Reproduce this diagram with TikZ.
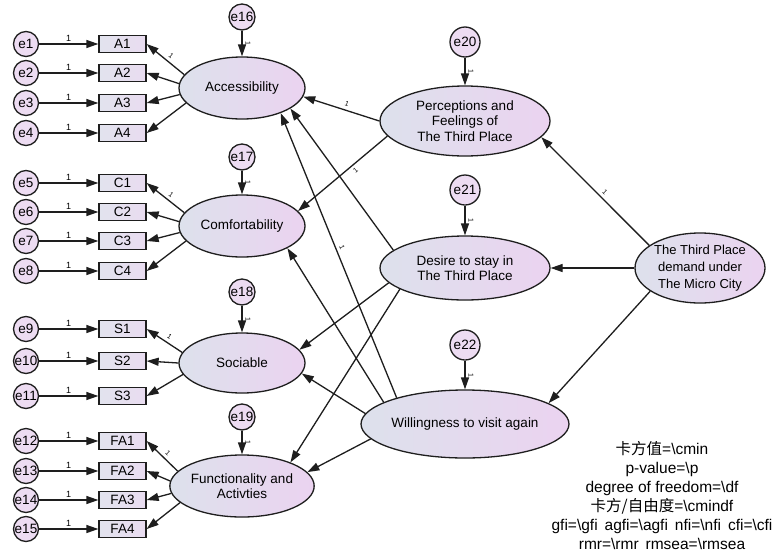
\documentclass[tikz,border=0pt]{standalone}
\usepackage{fontspec}
\setmainfont{Liberation Sans}
\newfontfamily\cjk{Noto Sans CJK SC}
\usetikzlibrary{arrows.meta,shapes.geometric}

\definecolor{linec}{HTML}{1E1E1E}
\definecolor{latL}{HTML}{DDE1EC}
\definecolor{latR}{HTML}{EBD3F0}
\definecolor{errfill}{HTML}{EDDCF2}
\definecolor{boxL}{HTML}{E2E3EE}
\definecolor{boxR}{HTML}{E9DCF0}

\tikzset{
  link/.style={draw=linec, line width=1.3pt, -{Triangle[length=12pt,width=8pt]}},
  latent/.style={ellipse, draw=linec, line width=1.3pt, left color=latL, right color=latR,
    minimum width=126pt, minimum height=62pt, inner sep=0pt, align=center,
    font=\fontsize{13.5}{15.5}\selectfont},
  bigl/.style={latent, minimum width=170pt, minimum height=66pt},
  item/.style={rectangle, draw=linec, line width=1.3pt, left color=boxL, right color=boxR,
    minimum width=47pt, minimum height=17pt, inner sep=0pt, font=\fontsize{13.5}{14}\selectfont},
  err/.style={circle, draw=linec, line width=1.3pt, fill=errfill, minimum size=25pt,
    inner sep=0pt, font=\fontsize{13.5}{14}\selectfont},
  bigerr/.style={err, minimum size=30pt},
  lab/.style={font=\fontsize{9}{10}\selectfont, inner sep=1pt},
  tiny1/.style={font=\fontsize{7}{8}\selectfont, inner sep=1pt},
}

\begin{document}
\begin{tikzpicture}[x=1pt,y=-1pt]
\fill[white] (0,0) rectangle (776,552);
\useasboundingbox (0,0) rectangle (776,552);

% latent variables
\node[latent] (acc) at (242,88) {Accessibility};
\node[latent] (com) at (242,226) {Comfortability};
\node[latent, minimum height=60pt] (soc) at (242,363) {Sociable};
\node[latent] (fun) at (242,486) {Functionality and\\Activties};
\node[bigl, minimum height=70pt] (per) at (465,121) {Perceptions and\\Feelings of\\The Third Place};
\node[bigl, minimum height=64pt] (des) at (465,268) {Desire to stay in\\The Third Place};
\node[bigl, minimum height=68pt] (wil) at (465,424) {Willingness to visit again};
\node[latent, minimum width=130pt, minimum height=70pt, font=\fontsize{13}{17}\selectfont] (thi) at (700,268) {The Third Place\\demand under\\The Micro City};

% residuals of latent variables
\node[err, minimum size=26pt] (e16) at (242,17) {e16};
\node[err, minimum size=26pt] (e17) at (242,157) {e17};
\node[err, minimum size=26pt] (e18) at (242,292) {e18};
\node[err, minimum size=26pt] (e19) at (242,417) {e19};
\node[bigerr] (e20) at (465,42) {e20};
\node[bigerr] (e21) at (465,190) {e21};
\node[bigerr] (e22) at (465,345) {e22};

\foreach \e/\l in {e16/acc,e17/com,e18/soc,e19/fun,e20/per,e21/des,e22/wil}
  \draw[link] (\e) -- node[tiny1, pos=0.5, right=2pt]{\rotatebox{-90}{1}} (\l);

% observed indicators and their errors
\foreach \n/\y/\b in {1/44/A1,2/73/A2,3/103/A3,4/133/A4,
                      5/183/C1,6/212/C2,7/241/C3,8/271/C4,
                      9/329/S1,10/361/S2,11/396/S3,
                      12/441/FA1,13/471/FA2,14/500/FA3,15/529/FA4}{
  \node[err] (e\n) at (26,\y) {e\n};
  \node[item] (\b) at (122.5,\y) {\b};
  \draw[link] (e\n) -- node[lab, above=1pt]{1} (\b);
}

% loadings
\draw[link] (acc.167) -- node[tiny1, pos=0.45, sloped, above=2pt]{1} (A1.east);
\draw[link] (acc.176) -- (A2.east);
\draw[link] (acc.186) -- (A3.east);
\draw[link] (acc.195) -- (A4.east);

\draw[link] (com.167) -- node[tiny1, pos=0.45, sloped, above=2pt]{1} (C1.east);
\draw[link] (com.176) -- (C2.east);
\draw[link] (com.186) -- (C3.east);
\draw[link] (com.195) -- (C4.east);

\draw[link] (soc.170) -- node[tiny1, pos=0.45, sloped, above=2pt]{1} (S1.east);
\draw[link] (soc.180) -- (S2.east);
\draw[link] (soc.191) -- (S3.east);

\draw[link] (fun.167) -- node[tiny1, pos=0.45, sloped, above=2pt]{1} (FA1.east);
\draw[link] (fun.176) -- (FA2.east);
\draw[link] (fun.186) -- (FA3.east);
\draw[link] (fun.195) -- (FA4.east);

% structural paths
\draw[link] (thi.156) -- node[tiny1, pos=0.45, sloped, above=2pt]{1} (per.-12);
\draw[link] (thi.west) -- (des.east);
\draw[link] (thi.205) -- (wil.14);
\draw[link] (per.180) -- node[tiny1, pos=0.45, sloped, above=2pt]{1} (acc.-8);
\draw[link] (per.191) -- node[tiny1, pos=0.4, sloped, below=2pt]{1} (com.15);
\draw[link] (des.166) -- (acc.-23);
\draw[link] (wil.159) -- node[tiny1, pos=0.52, sloped, above=2pt]{1} (acc.-33);
\draw[link] (wil.165) -- (com.-26);
\draw[link] (des.191) -- (soc.13);
\draw[link] (des.198) -- (fun.26);
\draw[link] (wil.174) -- (soc.-10);
\draw[link] (wil.189) -- (fun.12);

% fit indices
\node[align=center, inner sep=0pt, font=\fontsize{15.5}{19}\selectfont] (fit) at (662,496)
  {{\cjk 卡方值}=\textbackslash{}cmin\\
   p-value=\textbackslash{}p\\
   degree of freedom=\textbackslash{}df\\
   {\cjk 卡方/自由度}=\textbackslash{}cmindf\\
   gfi=\textbackslash{}gfi\hspace{0.45em}agfi=\textbackslash{}agfi\hspace{0.45em}nfi=\textbackslash{}nfi\hspace{0.45em}cfi=\textbackslash{}cfi\\
   rmr=\textbackslash{}rmr\hspace{0.45em}rmsea=\textbackslash{}rmsea};
\end{tikzpicture}
\end{document}
